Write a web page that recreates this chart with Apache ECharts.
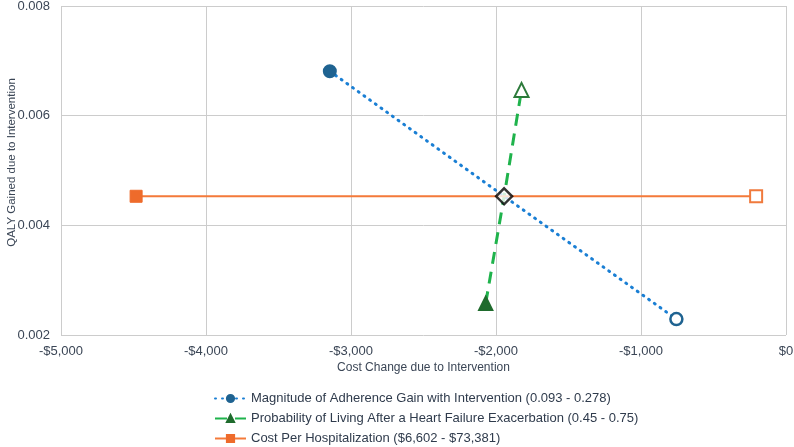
<!DOCTYPE html>
<html><head><meta charset="utf-8">
<script src="https://cdn.jsdelivr.net/npm/echarts@6/dist/echarts.min.js"></script>
<style>html,body{margin:0;padding:0;background:#fff}#c{width:794px;height:447px}</style>
</head><body><div id="c"></div>
<script>
// Data
const seriesNames = [
  'Magnitude of Adherence Gain with Intervention (0.093 - 0.278)',
  'Probability of Living After a Heart Failure Exacerbation (0.45 - 0.75)',
  'Cost Per Hospitalization ($6,602 - $73,381)'
];
const baseCase = [-1944, 0.00453];
const adherenceLow = [-3146, 0.00681];
const adherenceHigh = [-756, 0.00229];
const survivalLow = [-2071, 0.00258];
const survivalHigh = [-1824, 0.00647];
const hospLow = [-4482, 0.00453];
const hospHigh = [-206, 0.00453];
const xTicks = [-5000, -4000, -3000, -2000, -1000, 0];
const yTicks = [0.002, 0.004, 0.006, 0.008];

const txt = '#3b4656';
function pt(p, opts) { return Object.assign({ value: p }, opts || {}); }
function fmtMoney(v) {
  if (v === 0) return '$0';
  const s = Math.abs(v).toLocaleString('en-US');
  return (v < 0 ? '-$' : '$') + s;
}

const chart = echarts.init(document.getElementById('c'), null, { renderer: 'canvas' });
chart.setOption({
  animation: false,
  textStyle: { fontFamily: 'Liberation Sans, Arial, sans-serif' },
  grid: { left: 61, right: 8, top: 6, bottom: 112, containLabel: false, outerBoundsMode: 'none' },
  xAxis: {
    type: 'value', min: xTicks[0], max: xTicks[xTicks.length - 1], interval: 1000,
    name: 'Cost Change due to Intervention', nameLocation: 'middle', nameGap: 27,
    nameMoveOverlap: false,
    nameTextStyle: { color: txt, fontSize: 12 },
    axisLine: { show: false }, axisTick: { show: false },
    axisLabel: { color: txt, fontSize: 13, margin: 10, formatter: fmtMoney },
    splitLine: { show: true, lineStyle: { color: '#cccccc', width: 1 } }
  },
  yAxis: {
    type: 'value', min: yTicks[0], max: yTicks[yTicks.length - 1], interval: 0.002,
    name: 'QALY Gained due to Intervention', nameLocation: 'middle', nameGap: 43,
    nameMoveOverlap: false,
    nameTextStyle: { color: txt, fontSize: 11.5, padding: [0, 0, 0, 16] },
    axisLine: { show: false }, axisTick: { show: false },
    axisLabel: { color: txt, fontSize: 13, margin: 11, formatter: v => v.toFixed(3) },
    splitLine: { show: true, lineStyle: { color: '#cccccc', width: 1 } }
  },
  legend: {
    data: seriesNames, orient: 'vertical', left: 214, top: 392, height: 80, padding: 0,
    itemGap: 7, itemWidth: 31, itemHeight: 9,
    textStyle: { color: '#2f3b4c', fontSize: 13 }
  },
  series: [
    {
      name: seriesNames[0], type: 'line', z: 3,
      symbol: 'circle', symbolSize: 12,
      lineStyle: { color: '#1a7fd4', width: 3, type: [1, 6], cap: 'round' },
      itemStyle: { color: '#1f6391', borderColor: '#1f6391', borderWidth: 2 },
      data: [
        pt(adherenceLow),
        pt(baseCase, { symbol: 'none' }),
        pt(adherenceHigh, { itemStyle: { color: '#fff', borderColor: '#1f6391', borderWidth: 2.5 } })
      ]
    },
    {
      name: seriesNames[1], type: 'line', z: 3,
      symbol: 'triangle', symbolSize: 14,
      lineStyle: { color: '#1fb34c', width: 3, type: [12, 8] },
      itemStyle: { color: '#1f6b2d', borderColor: '#1f6b2d', borderWidth: 1.5 },
      data: [
        pt(survivalLow),
        pt(baseCase, { symbol: 'none' }),
        pt(survivalHigh, { itemStyle: { color: '#fff', borderColor: '#2c7a3a', borderWidth: 2 } })
      ]
    },
    {
      name: seriesNames[2], type: 'line', z: 3,
      symbol: 'rect', symbolSize: 12,
      lineStyle: { color: '#f47a3a', width: 2 },
      itemStyle: { color: '#ee6b2b', borderColor: '#ee6b2b', borderWidth: 1 },
      data: [
        pt(hospLow),
        pt(baseCase, { symbol: 'none' }),
        pt(hospHigh, { itemStyle: { color: '#fff', borderColor: '#f07a3d', borderWidth: 2 } })
      ]
    },
    {
      name: 'Base case', type: 'scatter', z: 5,
      symbol: 'diamond', symbolSize: [16, 16],
      itemStyle: { color: '#fff', borderColor: '#000', borderWidth: 2.5 },
      data: [baseCase]
    }
  ]
});
</script></body></html>
